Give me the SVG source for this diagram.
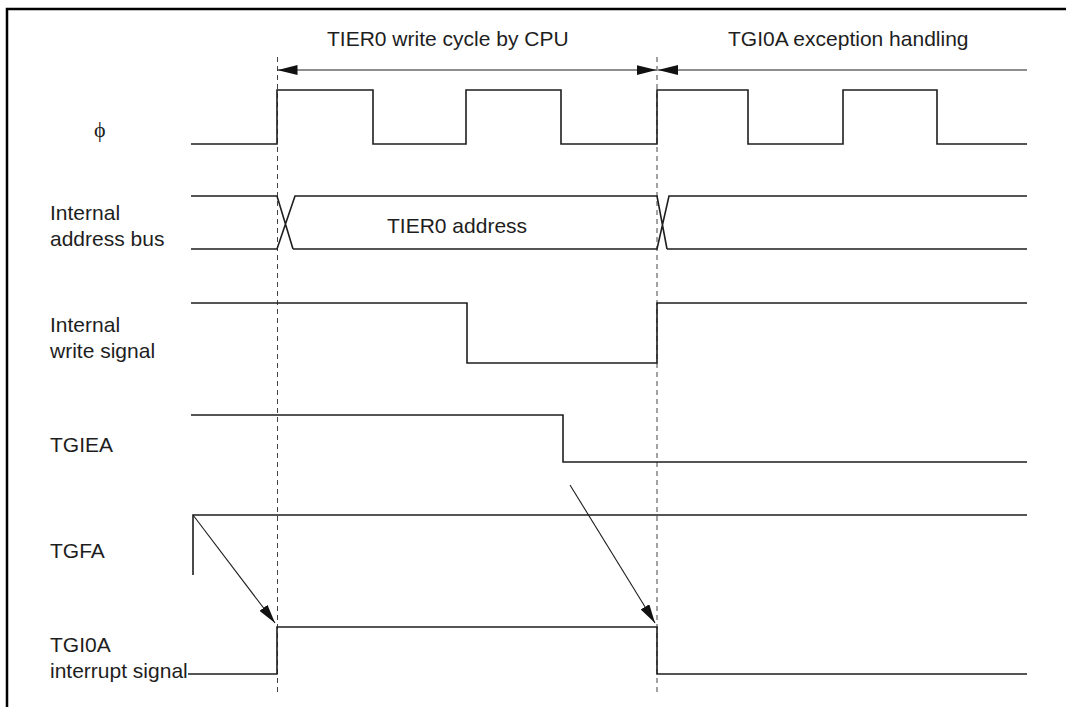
<svg xmlns="http://www.w3.org/2000/svg" width="1066" height="707" viewBox="0 0 1066 707">
  <style>
    .lbl { font-family: "Liberation Sans", Arial, sans-serif; font-size: 21px; fill: #1e1e1e; }
    .sig { fill: none; stroke: #1e1e1e; stroke-width: 1.6; stroke-linejoin: miter; }
    .guide { fill: none; stroke: #444; stroke-width: 1; stroke-dasharray: 5 4; }
    .conn { fill: none; stroke: #1e1e1e; stroke-width: 1.1; }
    .frame { fill: none; stroke: #000; stroke-width: 2.5; }
  </style>
  <defs>
    <marker id="arrH" markerUnits="userSpaceOnUse" markerWidth="20" markerHeight="10" viewBox="0 0 20 10" refX="20" refY="5" orient="auto-start-reverse">
      <path d="M0,0 L20,5 L0,10 z" fill="#111"/>
    </marker>
    <marker id="arrD" markerUnits="userSpaceOnUse" markerWidth="19" markerHeight="10" viewBox="0 0 19 10" refX="19" refY="5" orient="auto">
      <path d="M0,0 L19,5 L0,10 z" fill="#111"/>
    </marker>
  </defs>
  <rect width="1066" height="707" fill="#fff"/>
  <path class="frame" d="M7,710 V9 H1070"/>

  <g id="guides">
    <line class="guide" x1="277.5" y1="57" x2="277.5" y2="693"/>
    <line class="guide" x1="657" y1="57" x2="657" y2="693"/>
  </g>

  <g id="phase-labels">
    <text class="lbl" x="327" y="46">TIER0 write cycle by CPU</text>
    <text class="lbl" x="728" y="46">TGI0A exception handling</text>
  </g>

  <g id="sig-phi">
    <text x="94" y="137" style="font-family:'Liberation Serif','DejaVu Serif',serif;font-size:22px;fill:#1e1e1e">ϕ</text>
    <polyline class="sig" points="191,144 277,144 277,90 373,90 373,144 466,144 466,90 561,90 561,144 657,144 657,90 748,90 748,144 843,144 843,90 937,90 937,144 1027,144"/>
  </g>

  <g id="sig-address">
    <text class="lbl" x="50" y="220">Internal</text>
    <text class="lbl" x="50" y="246">address bus</text>
    <path class="sig" d="M191,196 H277 L293,249 M191,249 H277 L295,196 H657 L667,249 M293,249 H657 L669,196 H1027 M667,249 H1027"/>
    <text class="lbl" x="387" y="233">TIER0 address</text>
  </g>

  <g id="sig-write">
    <text class="lbl" x="50" y="332">Internal</text>
    <text class="lbl" x="50" y="358">write signal</text>
    <polyline class="sig" points="191,303 467,303 467,363 657,363 657,303 1027,303"/>
  </g>

  <g id="sig-tgiea">
    <text class="lbl" x="50" y="452">TGIEA</text>
    <polyline class="sig" points="191,415 563,415 563,462 1027,462"/>
  </g>

  <g id="sig-tgfa">
    <text class="lbl" x="50" y="558">TGFA</text>
    <polyline class="sig" points="193,575 193,515 1027,515"/>
  </g>

  <g id="sig-tgi0a">
    <text class="lbl" x="50" y="652">TGI0A</text>
    <text class="lbl" x="50" y="678">interrupt signal</text>
    <polyline class="sig" points="188,674 277,674 277,627 657,627 657,674 1027,674"/>
  </g>

  <g id="connectors">
    <line class="conn" x1="277.5" y1="70" x2="656.5" y2="70" marker-start="url(#arrH)" marker-end="url(#arrH)"/>
    <line class="conn" x1="658" y1="70" x2="1027" y2="70" marker-start="url(#arrH)"/>
    <line class="conn" x1="193" y1="515" x2="275" y2="623" marker-end="url(#arrD)"/>
    <line class="conn" x1="570" y1="485" x2="655" y2="623" marker-end="url(#arrD)"/>
  </g>
</svg>
